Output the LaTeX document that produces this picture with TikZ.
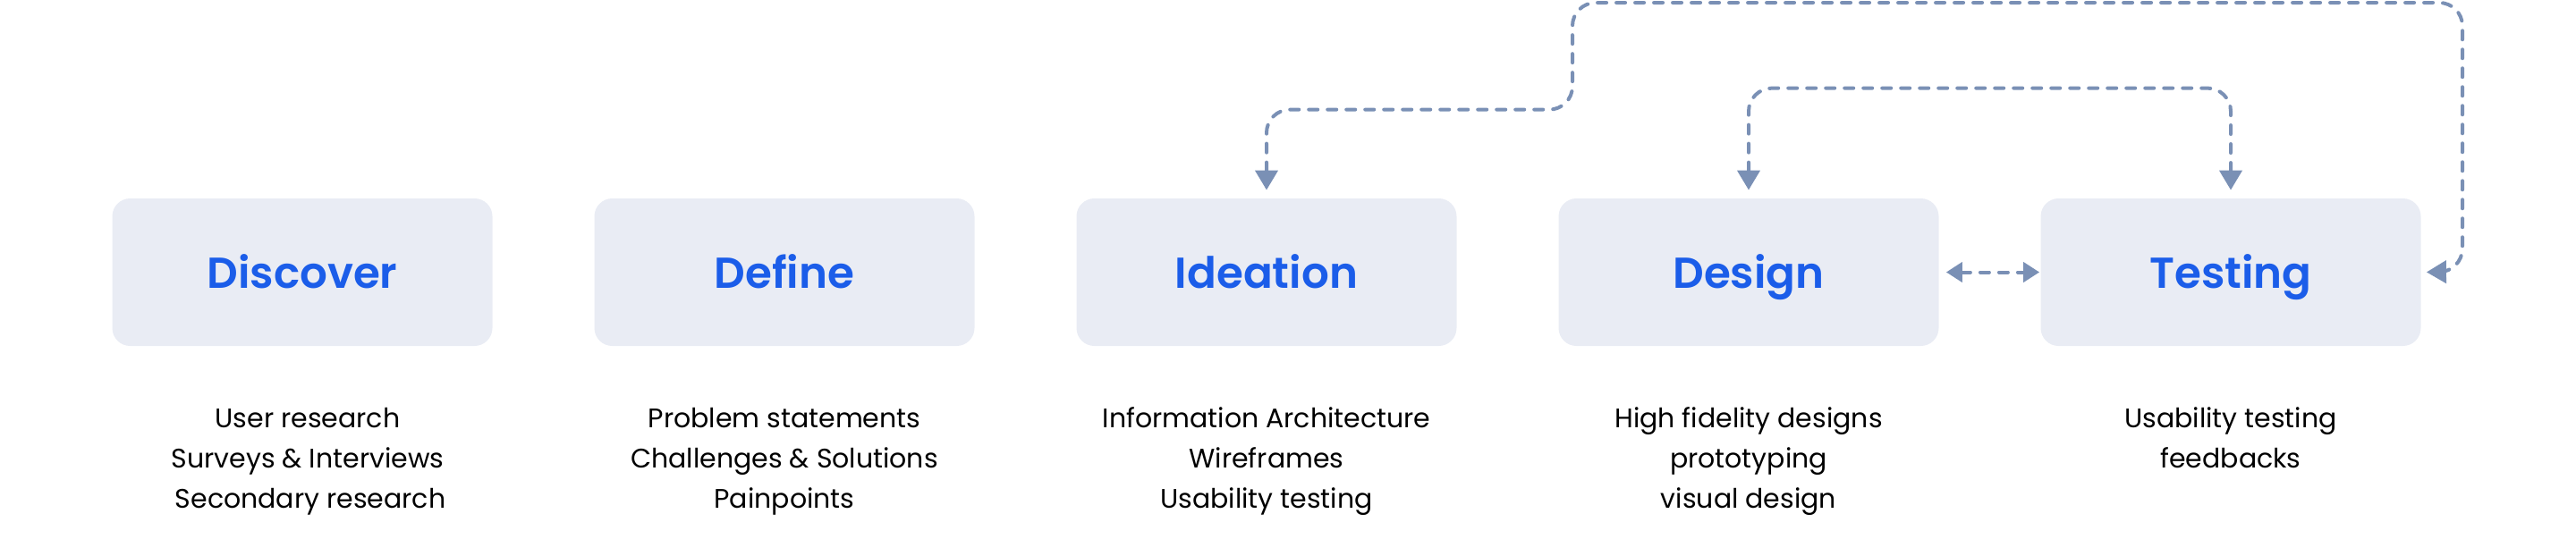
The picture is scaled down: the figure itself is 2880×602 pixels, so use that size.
\documentclass[tikz,border=0pt]{standalone}
\usepackage{fontspec}
\setmainfont{Poppins}
\newfontfamily\titlefont{Poppins SemiBold}
\usetikzlibrary{arrows.meta}
\definecolor{boxfill}{RGB}{233,236,244}
\definecolor{titleblue}{RGB}{27,93,233}
\definecolor{conncol}{RGB}{122,144,181}
\tikzset{
  stagebox/.style={rectangle, rounded corners=10pt, fill=boxfill, draw=none,
    minimum width=212.5pt, minimum height=82.5pt, inner sep=0pt,
    text height=17.5pt, text depth=0pt,
    font=\titlefont\fontsize{24.2}{28}\selectfont, text=titleblue},
  subline/.style={anchor=base, inner sep=0pt, font=\fontsize{15}{19}\selectfont, text=black},
  conn/.style={draw=conncol, line width=2pt, line cap=round, dash pattern=on 5pt off 5.5pt,
    rounded corners=13pt,
    arrows={Triangle[length=11pt,width=12.5pt]-Triangle[length=11pt,width=12.5pt]}},
}
\begin{document}
\begin{tikzpicture}[x=0.5pt,y=-0.5pt]
\useasboundingbox (0,0) rectangle (2880,602);
\node[stagebox] (discover) at (338,304.5) {Discover};
\node[stagebox] (define)   at (877,304.5) {Define};
\node[stagebox] (ideation) at (1416,304.5) {Ideation};
\node[stagebox] (design)   at (1955,304.5) {Design};
\node[stagebox] (testing)  at (2494,304.5) {Testing};

\node[subline] (disc1) at (344,478) {User research};
\node[subline] (disc2) at (344,523) {Surveys \& Interviews};
\node[subline] (disc3) at (347,568) {Secondary research};
\node[subline] (def1) at (877,478) {Problem statements};
\node[subline] (def2) at (877,523) {Challenges \& Solutions};
\node[subline] (def3) at (877,568) {Painpoints};
\node[subline] (ide1) at (1416,478) {Information Architecture};
\node[subline] (ide2) at (1416,523) {Wireframes};
\node[subline] (ide3) at (1416,568) {Usability testing};
\node[subline] (des1) at (1955,478) {High fidelity designs};
\node[subline] (des2) at (1955,523) {prototyping};
\node[subline] (des3) at (1955,568) {visual design};
\node[subline] (tes1) at (2494,478) {Usability testing};
\node[subline] (tes2) at (2494,523) {feedbacks};

\coordinate (b2) at (1758,3);
\coordinate (b3) at (2753,304);

% inner loop Design <-> Testing
\draw[conn, shorten <=4.5pt, shorten >=4.5pt]
  (design.north) -- ++(0,-123) -| (testing.north);
% big loop Ideation <-> Testing
\draw[conn, shorten <=4.5pt, shorten >=3pt]
  (ideation.north) -- ++(0,-99) -| (b2) -| (b3) -- (testing.east);
% Design <-> Testing
\draw[conn, rounded corners=0pt,
  arrows={Triangle[length=9pt,width=11pt]-Triangle[length=9pt,width=11pt]},
  shorten <=4pt, shorten >=0.5pt]
  (design.east) -- (testing.west);
\end{tikzpicture}
\end{document}
